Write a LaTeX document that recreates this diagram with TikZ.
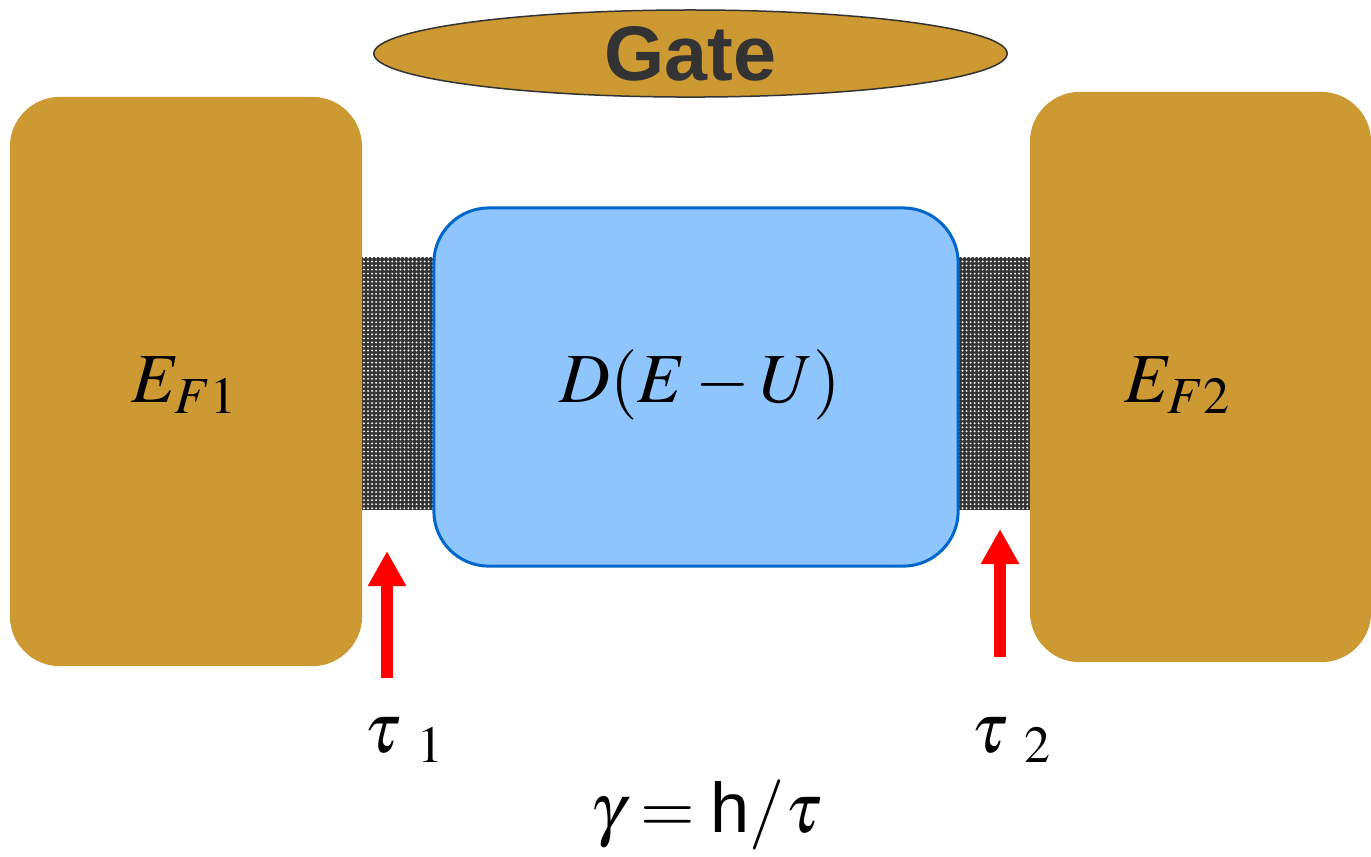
\documentclass[tikz,border=0pt]{standalone}
\usepackage{mathptmx}
\usepackage[no-math]{fontspec}
\setsansfont{Liberation Sans}
\usepackage{tikz}
\usetikzlibrary{arrows.meta}
\usetikzlibrary{patterns.meta, positioning, shapes.geometric}
\definecolor{gold}{HTML}{CC9933}
\definecolor{dotblue}{HTML}{8EC5FC}
\definecolor{edgeblue}{HTML}{0066CC}
\definecolor{darkgray}{HTML}{333333}
\tikzset{
  lead/.style={fill=gold, rounded corners=0.5cm, inner sep=0pt},
  barrier/.style={preaction={fill=darkgray}, pattern={Dots[distance=1.15pt, radius=0.3pt]},
    pattern color=white, minimum width=0.72cm, minimum height=2.53cm, inner sep=0pt},
  tunnel/.style={-{Triangle[width=0.36cm, length=0.35cm]}, red, line width=0.12cm},
  bigmath/.style={font=\fontsize{20}{24}\selectfont}
}
\begin{document}
\begin{tikzpicture}[x=0.01cm, y=-0.01cm]
  \useasboundingbox (0,0) rectangle (1371,856);
  % barriers first, so the dot box sits over them
  \node[barrier] (bar1) at (398,383.5) {};
  \node[barrier] (bar2) at (994,383.5) {};
  \node[lead, minimum width=3.52cm, minimum height=5.69cm] (lead1) at (186,381.5) {};
  \node[lead, minimum width=3.41cm, minimum height=5.70cm] (lead2) at (1200.5,377) {};
  \node[fill=dotblue, draw=edgeblue, line width=0.03cm, rounded corners=0.55cm,
    minimum width=5.24cm, minimum height=3.58cm] (dot) at (696,387) {};
  \node[ellipse, fill=gold, draw=darkgray, line width=0.015cm, inner sep=0pt,
    minimum width=6.33cm, minimum height=0.87cm] (gate) at (690.5,53.5) {};
  \node[text=darkgray, font=\sffamily\bfseries\fontsize{22}{26}\selectfont] at (gate) {Gate};

  \node[bigmath] at (185,385) {$E_{F1}$};
  \node[bigmath] at (1178,385) {$E_{F2}$};
  \node[bigmath] at (700,385) {$D(E-U)$};

  \coordinate (t1tail) at (387,678);
  \coordinate (t1tip) at (387,551);
  \coordinate (t2tail) at (1000,657);
  \coordinate (t2tip) at (1000,529);
  \draw[tunnel] (t1tail) -- (t1tip);
  \draw[tunnel] (t2tail) -- (t2tip);

  \node[bigmath] (tau1) at (405,740) {$\tau\;{}_{1}$};
  \node[bigmath] (tau2) at (1012,740) {$\tau\;{}_{2}$};
  \node[bigmath] (gamma) at (706,815) {$\gamma = \textsf{h}/\tau$};
\end{tikzpicture}
\end{document}
